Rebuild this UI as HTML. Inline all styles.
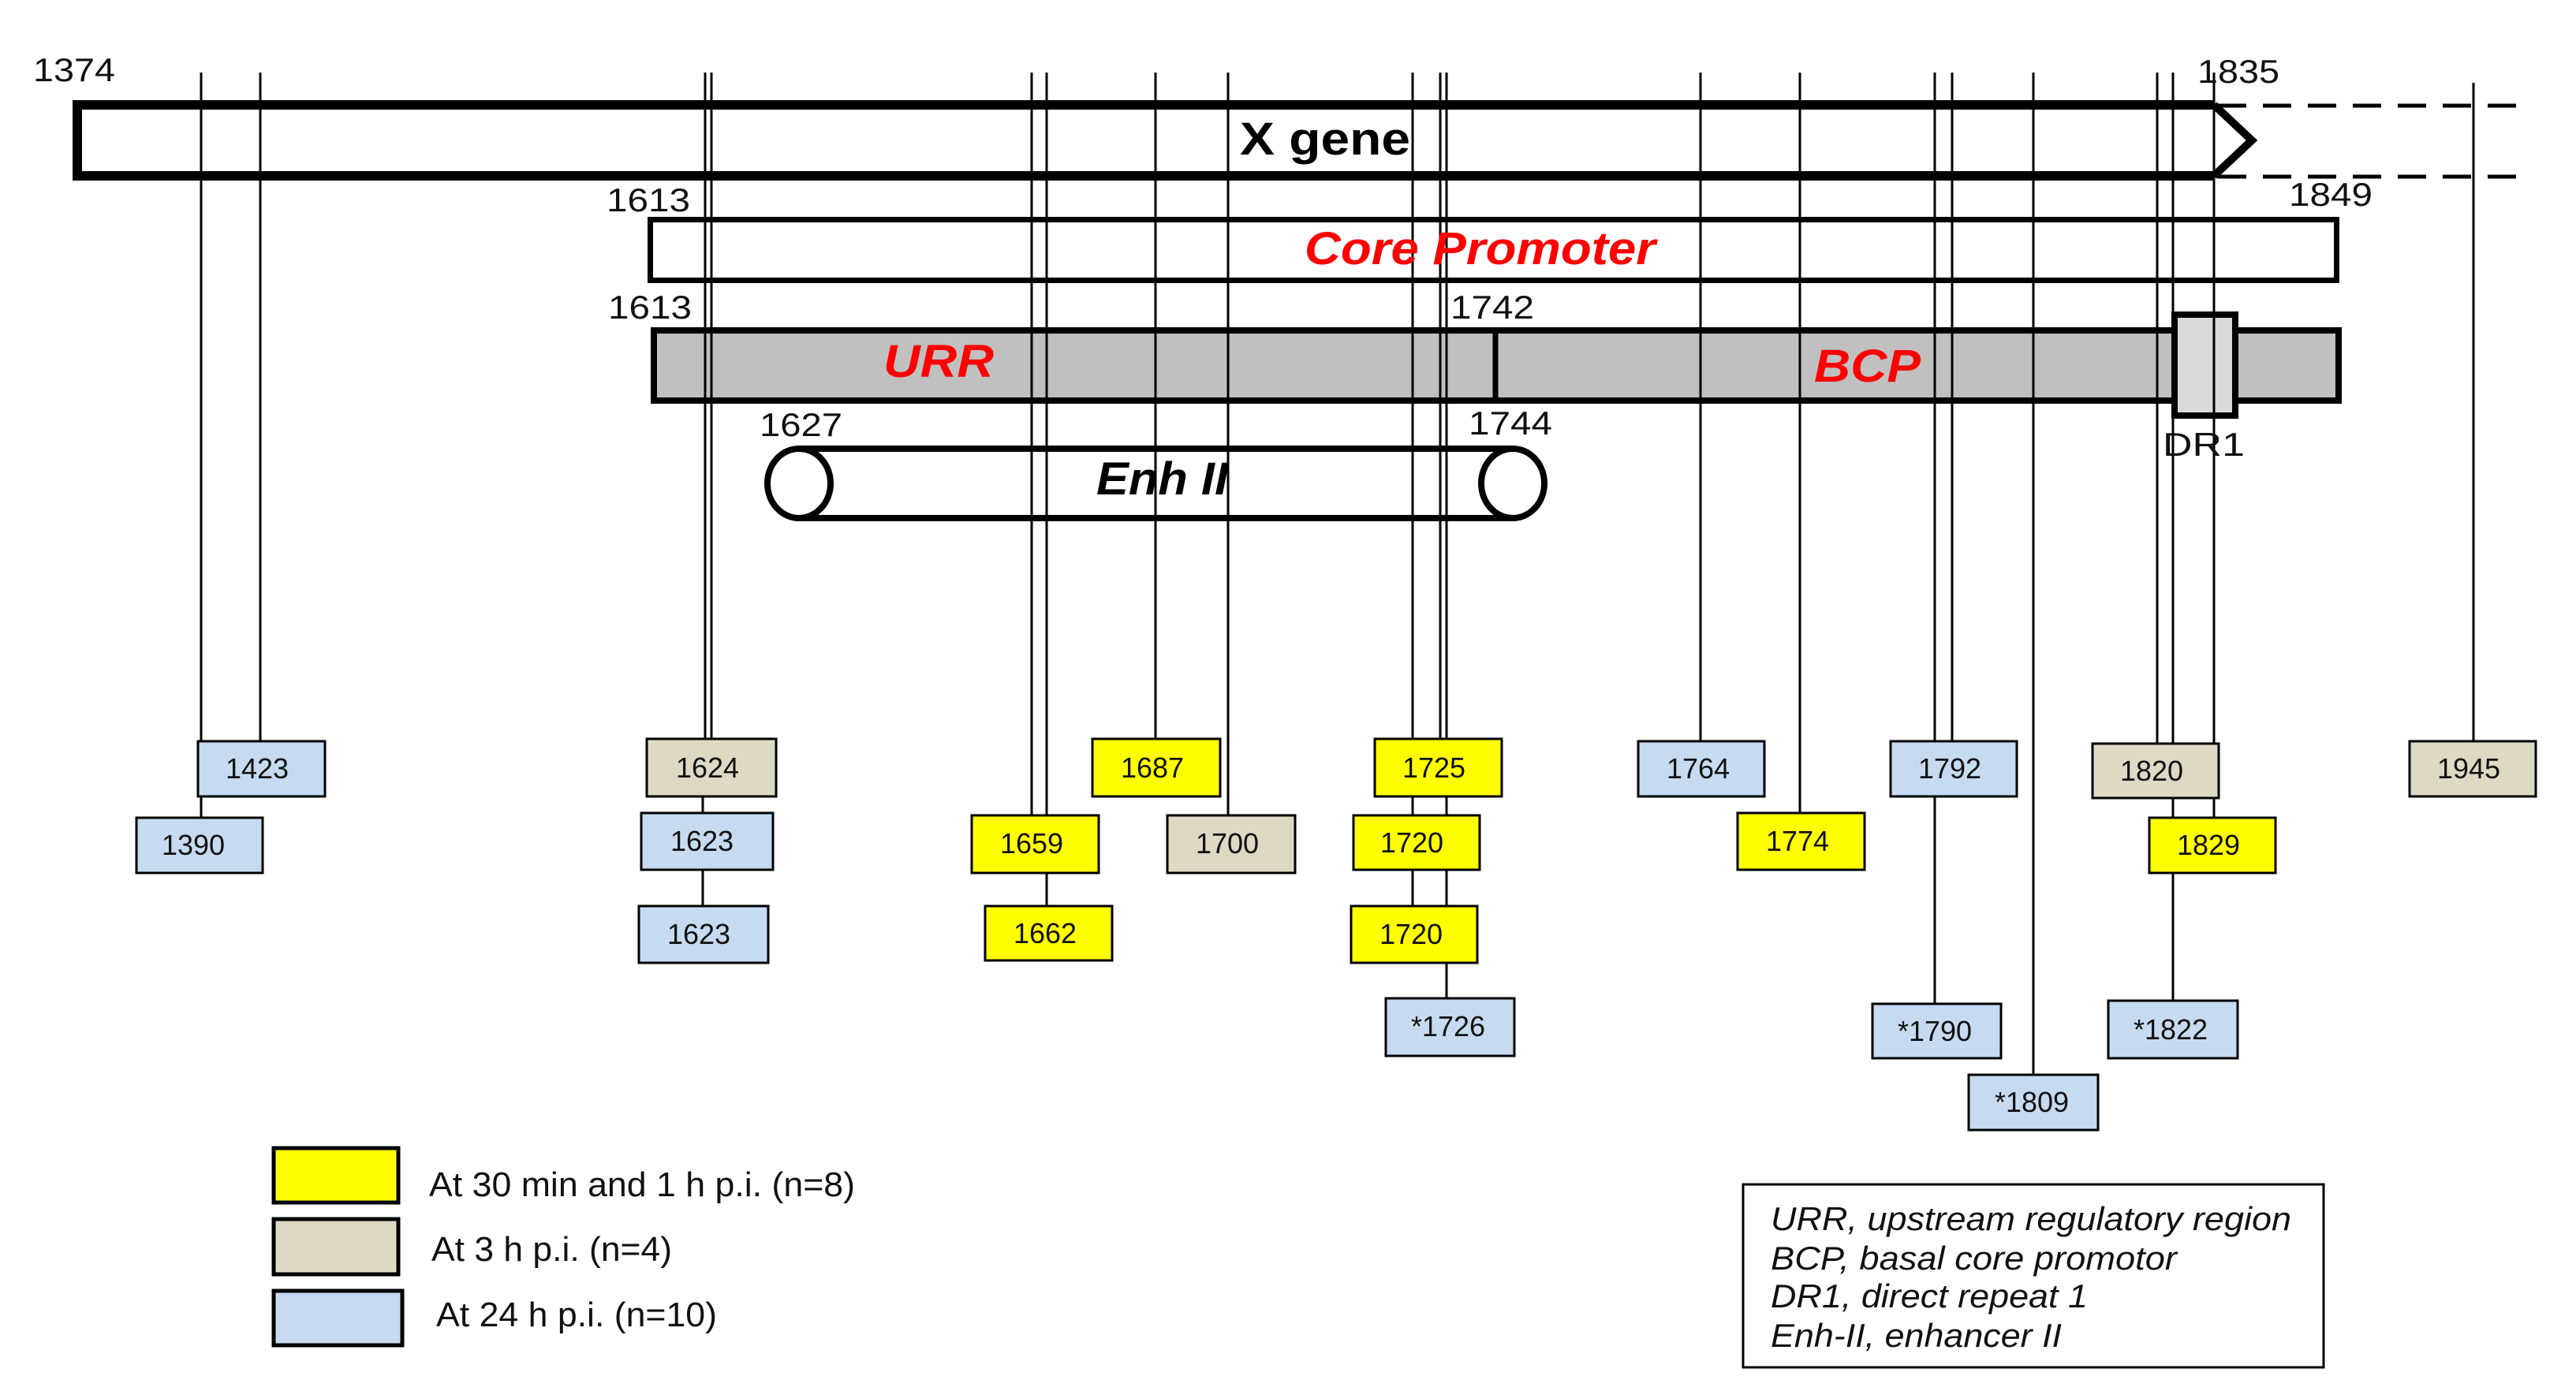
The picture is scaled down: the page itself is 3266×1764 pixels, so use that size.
<!DOCTYPE html>
<html><head><meta charset="utf-8"><style>html,body{margin:0;padding:0;background:#fff}svg{display:block}</style></head>
<body>
<svg width="3266" height="1764" viewBox="0 0 3266 1764" xmlns="http://www.w3.org/2000/svg" font-family="Liberation Sans, Arial, sans-serif">
<!-- X gene -->
<rect x="98" y="133" width="2709" height="90" fill="#fff"/>
<path d="M2807,133 L98,133 L98,223 L2807,223" fill="none" stroke="#000" stroke-width="12"/>
<path d="M2807,133 L2855,178 L2807,223" fill="none" stroke="#000" stroke-width="10"/>
<line x1="2812" y1="134" x2="3205" y2="134" stroke="#000" stroke-width="5" stroke-dasharray="36,21"/>
<line x1="2812" y1="224" x2="3205" y2="224" stroke="#000" stroke-width="5" stroke-dasharray="36,21"/>
<!-- Core promoter -->
<rect x="824.5" y="278.5" width="2138" height="77" fill="#fff" stroke="#000" stroke-width="7"/>
<!-- URR/BCP -->
<rect x="829" y="419" width="2136" height="89" fill="#c0c0c0" stroke="#000" stroke-width="8"/>
<line x1="1896" y1="415" x2="1896" y2="512" stroke="#000" stroke-width="7"/>
<rect x="2757" y="399" width="77" height="128" fill="#d9d9d9" stroke="#000" stroke-width="8"/>
<!-- Enh II -->
<rect x="1013" y="569" width="905" height="88" fill="#fff"/>
<line x1="1013" y1="569" x2="1918" y2="569" stroke="#000" stroke-width="8"/>
<line x1="1013" y1="657" x2="1918" y2="657" stroke="#000" stroke-width="8"/>
<ellipse cx="1918" cy="613" rx="40" ry="44" fill="#fff" stroke="#000" stroke-width="8"/>
<ellipse cx="1013" cy="613" rx="40" ry="44" fill="#fff" stroke="#000" stroke-width="8"/>

<!-- vertical lines -->
<g stroke="#000" stroke-width="3" fill="none">
<line x1="255" y1="92" x2="255" y2="1037"/>
<line x1="330" y1="92" x2="330" y2="940"/>
<line x1="894" y1="92" x2="894" y2="937"/>
<line x1="902" y1="92" x2="902" y2="937"/>
<line x1="891" y1="1010" x2="891" y2="1031"/>
<line x1="891" y1="1103" x2="891" y2="1149"/>
<line x1="1308" y1="92" x2="1308" y2="1034"/>
<line x1="1327" y1="92" x2="1327" y2="1034"/>
<line x1="1327" y1="1107" x2="1327" y2="1149"/>
<line x1="1465" y1="92" x2="1465" y2="937"/>
<line x1="1557" y1="92" x2="1557" y2="1034"/>
<line x1="1791" y1="92" x2="1791" y2="937"/>
<line x1="1826" y1="92" x2="1826" y2="937"/>
<line x1="1834" y1="92" x2="1834" y2="937"/>
<line x1="1791" y1="1010" x2="1791" y2="1034"/>
<line x1="1834" y1="1010" x2="1834" y2="1034"/>
<line x1="1791" y1="1103" x2="1791" y2="1149"/>
<line x1="1834" y1="1103" x2="1834" y2="1149"/>
<line x1="1834" y1="1221" x2="1834" y2="1266"/>
<line x1="2156" y1="92" x2="2156" y2="940"/>
<line x1="2282" y1="92" x2="2282" y2="1031"/>
<line x1="2453" y1="92" x2="2453" y2="940"/>
<line x1="2475" y1="92" x2="2475" y2="940"/>
<line x1="2453" y1="1010" x2="2453" y2="1273"/>
<line x1="2578" y1="92" x2="2578" y2="1363"/>
<line x1="2735" y1="92" x2="2735" y2="943"/>
<line x1="2755" y1="92" x2="2755" y2="943"/>
<line x1="2807" y1="92" x2="2807" y2="943"/>
<line x1="2755" y1="1012" x2="2755" y2="1037"/>
<line x1="2807" y1="1012" x2="2807" y2="1037"/>
<line x1="2755" y1="1107" x2="2755" y2="1269"/>
<line x1="3136" y1="105" x2="3136" y2="940"/>
</g>

<!-- number labels -->
<g font-size="42" fill="#111">
<text x="42" y="103" textLength="104" lengthAdjust="spacingAndGlyphs">1374</text>
<text x="769" y="268" textLength="106" lengthAdjust="spacingAndGlyphs">1613</text>
<text x="771" y="404" textLength="106" lengthAdjust="spacingAndGlyphs">1613</text>
<text x="963" y="553" textLength="105" lengthAdjust="spacingAndGlyphs">1627</text>
<text x="1839" y="404" textLength="106" lengthAdjust="spacingAndGlyphs">1742</text>
<text x="1862" y="551" textLength="106" lengthAdjust="spacingAndGlyphs">1744</text>
<text x="2786" y="105" textLength="104" lengthAdjust="spacingAndGlyphs">1835</text>
<text x="2902" y="261" textLength="106" lengthAdjust="spacingAndGlyphs">1849</text>
<text x="2742" y="578" textLength="104" lengthAdjust="spacingAndGlyphs">DR1</text>
</g>
<text x="1572" y="196" font-size="58" font-weight="bold" fill="#000" textLength="216" lengthAdjust="spacingAndGlyphs">X gene</text>
<g font-size="58" font-weight="bold" font-style="italic" fill="#ff0000">
<text x="1654" y="335" textLength="445" lengthAdjust="spacingAndGlyphs">Core Promoter</text>
<text x="1120" y="478" textLength="140" lengthAdjust="spacingAndGlyphs">URR</text>
<text x="2300" y="484" textLength="135" lengthAdjust="spacingAndGlyphs">BCP</text>
</g>
<text x="1390" y="627" font-size="58" font-weight="bold" font-style="italic" fill="#000" textLength="167" lengthAdjust="spacingAndGlyphs">Enh II</text>

<!-- mutation boxes -->
<g stroke="#000" stroke-width="3">
<rect x="251" y="940" width="161" height="70" fill="#c6dbf0"/>
<rect x="173" y="1037" width="160" height="70" fill="#c6dbf0"/>
<rect x="820" y="937" width="164" height="73" fill="#ddd9c3"/>
<rect x="813" y="1031" width="167" height="72" fill="#c6dbf0"/>
<rect x="810" y="1149" width="164" height="72" fill="#c6dbf0"/>
<rect x="1232" y="1034" width="161" height="73" fill="#ffff00"/>
<rect x="1249" y="1149" width="161" height="69" fill="#ffff00"/>
<rect x="1385" y="937" width="162" height="73" fill="#ffff00"/>
<rect x="1480" y="1034" width="162" height="73" fill="#ddd9c3"/>
<rect x="1743" y="937" width="161" height="73" fill="#ffff00"/>
<rect x="1716" y="1034" width="160" height="69" fill="#ffff00"/>
<rect x="1713" y="1149" width="160" height="72" fill="#ffff00"/>
<rect x="1757" y="1266" width="163" height="73" fill="#c6dbf0"/>
<rect x="2077" y="940" width="160" height="70" fill="#c6dbf0"/>
<rect x="2203" y="1031" width="161" height="72" fill="#ffff00"/>
<rect x="2397" y="940" width="160" height="70" fill="#c6dbf0"/>
<rect x="2374" y="1273" width="163" height="69" fill="#c6dbf0"/>
<rect x="2496" y="1363" width="164" height="70" fill="#c6dbf0"/>
<rect x="2653" y="943" width="160" height="69" fill="#ddd9c3"/>
<rect x="2725" y="1037" width="160" height="70" fill="#ffff00"/>
<rect x="2673" y="1269" width="164" height="73" fill="#c6dbf0"/>
<rect x="3055" y="940" width="160" height="70" fill="#ddd9c3"/>
</g>
<g font-size="36" fill="#111" text-anchor="middle">
<text x="326" y="987">1423</text>
<text x="245" y="1084">1390</text>
<text x="897" y="986">1624</text>
<text x="890" y="1079">1623</text>
<text x="886" y="1197">1623</text>
<text x="1308" y="1082">1659</text>
<text x="1325" y="1196">1662</text>
<text x="1461" y="986">1687</text>
<text x="1556" y="1082">1700</text>
<text x="1818" y="986">1725</text>
<text x="1790" y="1081">1720</text>
<text x="1789" y="1197">1720</text>
<text x="1836" y="1314">*1726</text>
<text x="2153" y="987">1764</text>
<text x="2279" y="1079">1774</text>
<text x="2472" y="987">1792</text>
<text x="2453" y="1320">*1790</text>
<text x="2576" y="1410">*1809</text>
<text x="2728" y="990">1820</text>
<text x="2800" y="1084">1829</text>
<text x="2752" y="1318">*1822</text>
<text x="3130" y="987">1945</text>
</g>

<!-- legend -->
<g stroke="#000" stroke-width="5">
<rect x="347" y="1456" width="158" height="69" fill="#ffff00"/>
<rect x="347" y="1546" width="158" height="70" fill="#ddd9c3"/>
<rect x="347" y="1637" width="163" height="69" fill="#c6dbf0"/>
</g>
<g font-size="44" fill="#111">
<text x="544" y="1517" textLength="540" lengthAdjust="spacingAndGlyphs">At 30 min  and 1 h p.i. (n=8)</text>
<text x="547" y="1599" textLength="305" lengthAdjust="spacingAndGlyphs">At 3 h p.i. (n=4)</text>
<text x="553" y="1682" textLength="356" lengthAdjust="spacingAndGlyphs">At 24 h p.i. (n=10)</text>
</g>
<rect x="2210" y="1502" width="736" height="232" fill="#fff" stroke="#000" stroke-width="3"/>
<g font-size="42" font-style="italic" fill="#111">
<text x="2245" y="1560" textLength="660" lengthAdjust="spacingAndGlyphs">URR,  upstream  regulatory  region</text>
<text x="2245" y="1610" textLength="515" lengthAdjust="spacingAndGlyphs">BCP,  basal core promotor</text>
<text x="2245" y="1658" textLength="402" lengthAdjust="spacingAndGlyphs">DR1,  direct repeat  1</text>
<text x="2245" y="1708" textLength="369" lengthAdjust="spacingAndGlyphs">Enh-II, enhancer II</text>
</g>
</svg>
</body></html>
